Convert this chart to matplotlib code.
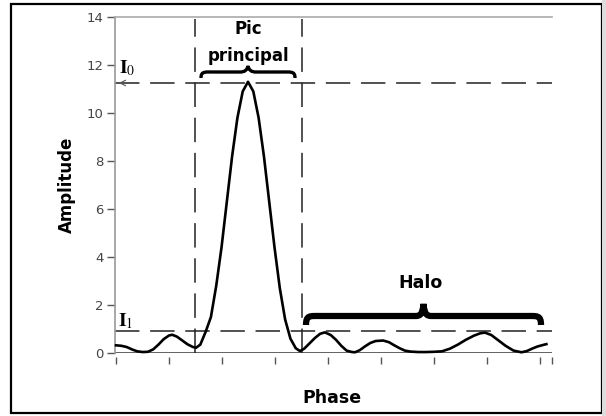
import numpy as np
import matplotlib.pyplot as plt
import matplotlib.transforms as mtransforms
from matplotlib.path import Path
from matplotlib.patches import PathPatch, Rectangle

plt.rcParams['mathtext.fontset'] = 'stix'

# phase (tick units) and amplitude
phase = [0.00, 0.10, 0.20, 0.30, 0.40, 0.50, 0.60, 0.70, 0.80, 0.90, 1.00, 1.06,
         1.15, 1.25, 1.35, 1.45, 1.51, 1.59, 1.69, 1.79, 1.89, 1.99, 2.09, 2.19,
         2.29, 2.39, 2.49, 2.59, 2.69, 2.79, 2.89, 2.99, 3.09, 3.19, 3.29, 3.39,
         3.47, 3.55, 3.65, 3.75, 3.85, 3.94, 4.05, 4.15, 4.25, 4.35, 4.45, 4.51,
         4.60, 4.70, 4.80, 4.90, 5.04, 5.15, 5.25, 5.35, 5.45, 5.55, 5.70, 5.85,
         6.00, 6.15, 6.30, 6.45, 6.60, 6.75, 6.87, 6.96, 7.08, 7.20, 7.35, 7.50,
         7.65, 7.75, 7.85, 7.95, 8.05, 8.12]
amplitude = [0.32, 0.30, 0.25, 0.15, 0.07, 0.04, 0.05, 0.15, 0.35, 0.58, 0.73, 0.76,
             0.68, 0.52, 0.36, 0.25, 0.22, 0.35, 0.88, 1.50, 2.80, 4.40, 6.30, 8.20,
             9.80, 10.90, 11.30, 10.90, 9.80, 8.20, 6.30, 4.40, 2.70, 1.40, 0.60, 0.20,
             0.08, 0.18, 0.40, 0.62, 0.80, 0.86, 0.75, 0.55, 0.30, 0.10, 0.04, 0.03,
             0.12, 0.28, 0.42, 0.50, 0.52, 0.45, 0.32, 0.20, 0.10, 0.06, 0.04, 0.04,
             0.05, 0.07, 0.18, 0.35, 0.55, 0.72, 0.82, 0.85, 0.75, 0.55, 0.30, 0.10,
             0.03, 0.08, 0.18, 0.27, 0.33, 0.37]

i0_level = 11.25
i1_level = 0.92
peak_bounds = [1.49, 3.51]
y_ticks = [0, 2, 4, 6, 8, 10, 12, 14]
x_ticks = [0, 1, 2, 3, 4, 5, 6, 7, 8, 8.226]

W, H = 606, 416
fig = plt.figure(figsize=(W / 100, H / 100), dpi=100)
ax = fig.add_axes([115 / W, (H - 353) / H, 437 / W, 336 / H])

# outer frame of the picture
fig.patches.append(Rectangle((11 / W, 3 / H), 591 / W, 409 / H, transform=fig.transFigure,
                             fill=False, edgecolor='black', lw=1.6))
fig.patches.append(Rectangle((602 / W, 0), 4 / W, 1, transform=fig.transFigure,
                             facecolor='#dcdcdc', edgecolor='none'))

dash = dict(color='#222222', lw=1.1, dashes=(16, 7))
ax.plot([-0.02, 8.226], [i0_level, i0_level], **dash)
ax.plot([-0.02, 8.226], [i1_level, i1_level], **dash)
for xb in peak_bounds:
    ax.plot([xb, xb], [0, 13.9], **dash)
ax.annotate('', xy=(0.0, i0_level), xytext=(0.25, i0_level),
            arrowprops=dict(arrowstyle='->', lw=0.8, color='#555555'))

ax.axhline(0, color='#555555', lw=1.3, zorder=1)
ax.plot(phase, amplitude, color='black', lw=1.9, clip_on=False, zorder=3)

ax.set_xlim(-0.02, 8.226)
ax.set_ylim(0, 14)
ax.set_yticks(y_ticks)
ax.set_xticks(x_ticks)
ax.set_xticklabels([])
ax.tick_params(axis='y', length=6, width=1, color='#555555', labelcolor='#444444',
               labelsize=9.5, pad=2)
ax.tick_params(axis='x', length=5, width=1, color='#555555')
ax.spines['right'].set_visible(False)
ax.spines['left'].set_color('#999999')
ax.spines['left'].set_linewidth(1.2)
ax.spines['top'].set_color('#aaaaaa')
ax.spines['top'].set_linewidth(1.2)
ax.spines['bottom'].set_position(('outward', 3))
ax.spines['bottom'].set_visible(False)

ax.set_ylabel('Amplitude', fontsize=12, fontweight='bold', labelpad=8)

# labels and braces placed in picture pixels (y down)
pix = mtransforms.Affine2D().scale(1, -1).translate(0, H)
fig.text(332, 398, 'Phase', transform=pix, ha='center', va='center',
         fontsize=12.5, fontweight='bold')
fig.text(248, 29, 'Pic', transform=pix, ha='center', va='center',
         fontsize=12, fontweight='bold')
fig.text(248, 56, 'principal', transform=pix, ha='center', va='center',
         fontsize=12, fontweight='bold')
fig.text(421, 283, 'Halo', transform=pix, ha='center', va='center',
         fontsize=12.5, fontweight='bold')
fig.text(119, 73, r'$\mathbf{I}_{0}$', transform=pix, ha='left', va='baseline', fontsize=14)
fig.text(118, 326, r'$\mathbf{I}_{1}$', transform=pix, ha='left', va='baseline', fontsize=14)


def brace(x0, x1, ytip, ybody, yend, lw):
    xm = (x0 + x1) / 2
    c = Path.CURVE4
    verts = [(x0, yend), (x0, ybody - 1), (x0 + 4, ybody), (x0 + 14, ybody),
             (xm - 8, ybody), (xm - 3, ybody), (xm - 1, ybody - 2), (xm, ytip),
             (xm + 1, ybody - 2), (xm + 3, ybody), (xm + 8, ybody),
             (x1 - 14, ybody), (x1 - 4, ybody), (x1, ybody - 1), (x1, yend)]
    codes = [Path.MOVETO, c, c, c, Path.LINETO, c, c, c, c, c, c,
             Path.LINETO, c, c, c]
    fig.patches.append(PathPatch(Path(verts, codes), transform=pix, fill=False,
                                 edgecolor='black', lw=lw, capstyle='butt'))


brace(201, 295, 66, 72, 78, 2.4)
brace(306, 541, 304, 316, 325, 4.5)

fig.savefig('out.png', dpi=100)
